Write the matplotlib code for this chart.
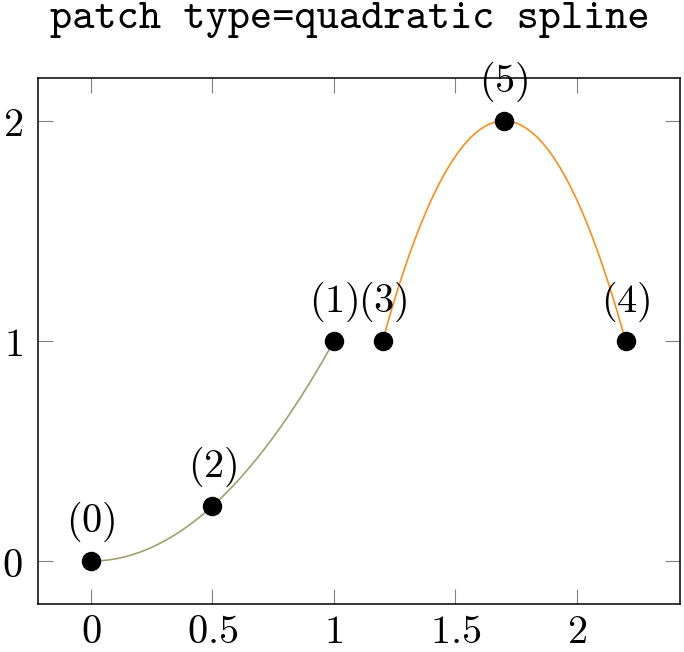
import os
import numpy as np
import matplotlib
matplotlib.use("Agg")
import matplotlib.pyplot as plt
from matplotlib.font_manager import FontProperties

plt.rcParams['mathtext.fontset'] = 'cm'

# patch data: each quadratic patch is (end, end, middle)
xs = [0, 1, 0.5, 1.2, 2.2, 1.7]
ys = [0, 1, 0.25, 1, 1, 2]
labels = ['(0)', '(1)', '(2)', '(3)', '(4)', '(5)']
patch_colors = ['#a0a070', '#ff8c1a']

xticks = [0, 0.5, 1, 1.5, 2]
xticklabels = ['0', '0.5', '1', '1.5', '2']
yticks = [0, 1, 2]
yticklabels = ['0', '1', '2']

fig = plt.figure(figsize=(6.84, 6.52), dpi=100)
ax = fig.add_axes([38 / 684, 48 / 652, 642 / 684, 526 / 652])

# draw each patch as the quadratic through its three points
for k in range(len(xs) // 3):
    px = xs[3 * k:3 * k + 3]
    py = ys[3 * k:3 * k + 3]
    coef = np.polyfit(px, py, 2)
    t = np.linspace(min(px), max(px), 200)
    ax.plot(t, np.polyval(coef, t), color=patch_colors[k], lw=1.2, zorder=2)

ax.plot(xs, ys, 'o', color='black', markersize=13, linestyle='', zorder=3)

for x, y, lab in zip(xs, ys, labels):
    ax.annotate('$' + lab + '$', (x, y), xytext=(0, 12), textcoords='offset points',
                ha='center', va='bottom', fontsize=29)

ax.set_xlim(-0.218, 2.424)
ax.set_ylim(-0.195, 2.195)
ax.set_xticks(xticks)
ax.set_xticklabels(['$' + s + '$' for s in xticklabels], fontsize=29)
ax.set_yticks(yticks)
ax.set_yticklabels(['$' + s + '$' for s in yticklabels], fontsize=29)
ax.tick_params(direction='in', length=11, width=0.8, color='#808080',
               top=True, right=True)
ax.tick_params(axis='x', pad=6)
ax.tick_params(axis='y', pad=11)
for s in ax.spines.values():
    s.set_linewidth(1.1)

# typewriter title in the Computer Modern tt font shipped with matplotlib
tt = FontProperties(fname=os.path.join(matplotlib.get_data_path(), 'fonts', 'ttf', 'cmtt10.ttf'),
                    size=30.5)
fig.text(350 / 684, 1 - 20 / 652, 'patch type=quadratic spline', fontproperties=tt,
         ha='center', va='center')

fig.savefig('out.png', dpi=100)
